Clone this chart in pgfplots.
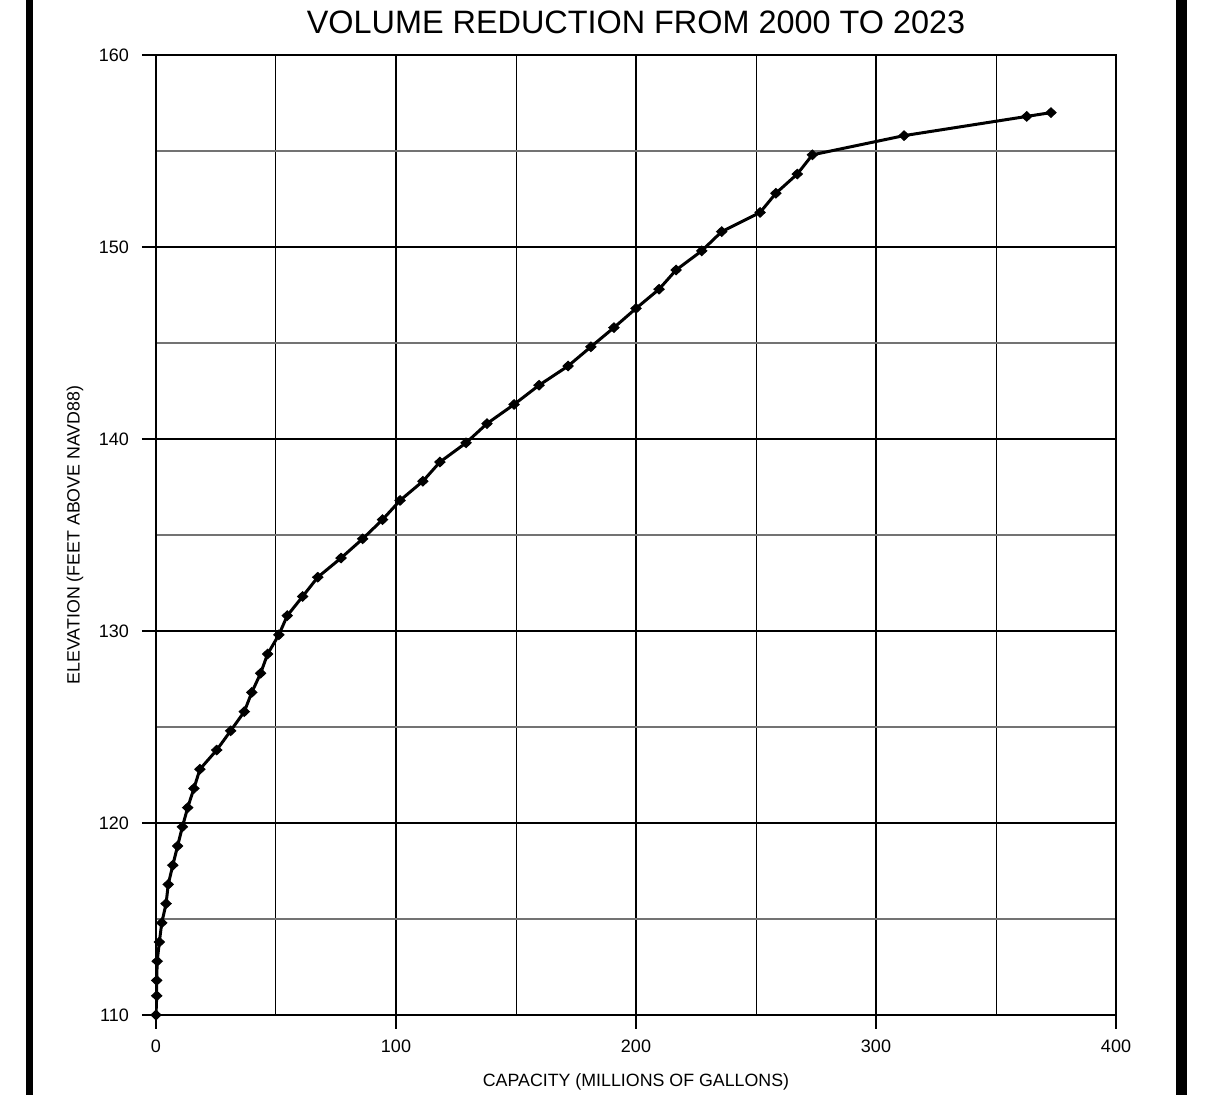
\documentclass[border=0pt]{standalone}
\usepackage{fontspec}
\setmainfont{Liberation Sans}
\usepackage{pgfplots}
\pgfplotsset{compat=1.18}

\begin{document}
\begin{tikzpicture}
\useasboundingbox (-78pt,-40pt) rectangle (527pt,507.5pt);
\begin{axis}[
    at={(0,0)}, anchor=south west,
    scale only axis,
    width=480pt, height=480pt,
    xmin=0, xmax=400, ymin=110, ymax=160,
    xtick={0,100,...,400},
    ytick={110,120,...,160},
    minor xtick={50,150,250,350},
    minor ytick={115,125,...,155},
    grid=both,
    major grid style={black, line width=1pt},
    minor x grid style={black, line width=0.5pt},
    minor y grid style={black!55, line width=0.7pt},
    axis line style={black, line width=1pt},
    tick align=outside,
    xtick pos=bottom, ytick pos=left,
    major tick length=7pt, minor tick length=0pt,
    major tick style={black, line width=1pt},
    /pgf/number format/assume math mode=true,
    tick label style={font=\fontsize{9}{10}\selectfont},
    yticklabel style={xshift=-3pt},
    xticklabel style={yshift=-2pt},
    title={VOLUME REDUCTION FROM 2000 TO 2023},
    every axis title/.style={at={(axis description cs:0.5,1.0344)}, anchor=center, font=\fontsize{16.2}{18}\selectfont},
    xlabel={CAPACITY (MILLIONS OF GALLONS)},
    ylabel={ELEVATION (FEET ABOVE NAVD88)},
    every axis x label/.style={at={(axis description cs:0.5,-0.0698)}, anchor=center, font=\fontsize{8.9}{10}\selectfont},
    every axis y label/.style={at={(axis description cs:-0.0844,0.5)}, anchor=center, rotate=90, font=\fontsize{8.9}{10}\selectfont},
]
\addplot[black, line width=1.5pt, mark=diamond*, mark size=3.4pt,
         mark options={solid, fill=black, line width=0.5pt, yscale=0.7}] coordinates {
  (0,110) (0.3,111) (0.3,111.8) (0.5,112.8) (1.4,113.8) (2.4,114.8)
  (4.2,115.8) (5.1,116.8) (7.0,117.8) (9.0,118.8) (11.0,119.8)
  (13.2,120.8) (15.8,121.8) (18.3,122.8) (25.3,123.8) (31.1,124.8)
  (36.8,125.8) (39.9,126.8) (43.6,127.8) (46.5,128.8) (51.2,129.8)
  (54.7,130.8) (61.1,131.8) (67.4,132.8) (77.1,133.8) (86.1,134.8)
  (94.4,135.8) (101.7,136.8) (111.2,137.8) (118.3,138.8) (129.2,139.8)
  (137.9,140.8) (149.2,141.8) (159.6,142.8) (171.7,143.8) (181.2,144.8)
  (190.8,145.8) (200.0,146.8) (209.6,147.8) (216.7,148.8) (227.4,149.8)
  (235.7,150.8) (251.7,151.8) (258.3,152.8) (267.2,153.8) (273.5,154.8)
  (311.7,155.8) (362.8,156.8) (372.9,157.0)
};
\end{axis}
\draw[black, line width=3.4pt] (-63.3pt,-40pt) -- (-63.3pt,507.5pt);
\draw[black, line width=5.3pt] (512.8pt,-40pt) -- (512.8pt,507.5pt);
\end{tikzpicture}
\end{document}
